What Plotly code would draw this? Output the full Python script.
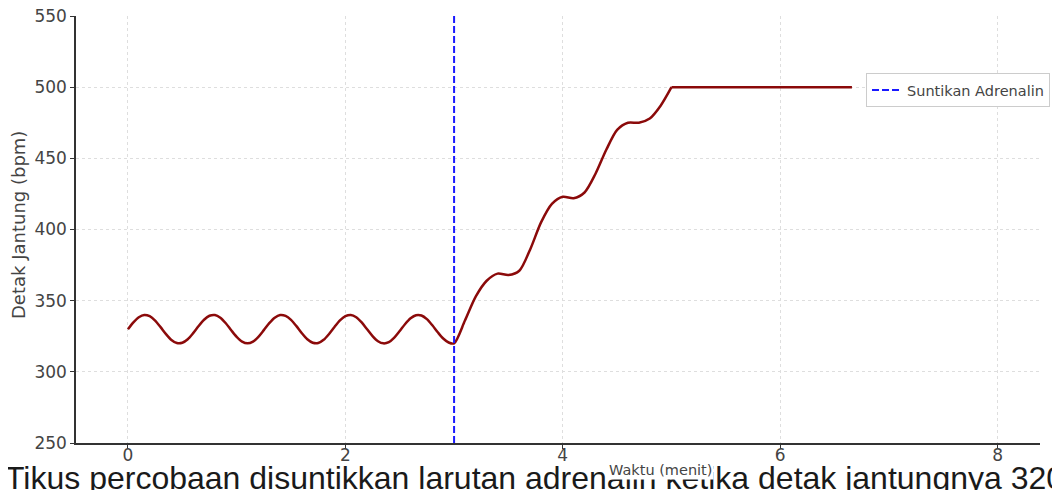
import plotly.graph_objects as go

# ---------------- data ----------------
# baseline oscillation before the injection (every 0.05 min)
base_time = [0.00, 0.05, 0.10, 0.15, 0.20, 0.25, 0.30, 0.35, 0.40, 0.45,
             0.50, 0.55, 0.60, 0.65, 0.70, 0.75, 0.80, 0.85, 0.90, 0.95,
             1.00, 1.05, 1.10, 1.15, 1.20, 1.25, 1.30, 1.35, 1.40, 1.45,
             1.50, 1.55, 1.60, 1.65, 1.70, 1.75, 1.80, 1.85, 1.90, 1.95,
             2.00, 2.05, 2.10, 2.15, 2.20, 2.25, 2.30, 2.35, 2.40, 2.45,
             2.50, 2.55, 2.60, 2.65, 2.70, 2.75, 2.80, 2.85, 2.90, 2.95]
base_bpm = [330.0, 334.8, 338.4, 340.0, 339.1, 336.0, 331.4, 326.5, 322.4, 320.2,
            320.4, 322.9, 327.2, 332.2, 336.6, 339.4, 339.9, 338.0, 334.1, 329.2,
            324.6, 321.2, 320.0, 321.2, 324.6, 329.3, 334.2, 338.0, 339.9, 339.3,
            336.5, 332.1, 327.1, 322.9, 320.4, 320.2, 322.5, 326.6, 331.5, 336.1,
            339.1, 340.0, 338.4, 334.7, 329.9, 325.1, 321.5, 320.0, 320.9, 324.1,
            328.7, 333.6, 337.6, 339.8, 339.6, 337.0, 332.7, 327.8, 323.4, 320.6]
# rise after the injection (every 0.1 min) and the plateau
rise_time = [3.0, 3.1, 3.2, 3.3, 3.4, 3.5, 3.6, 3.7, 3.8, 3.9,
             4.0, 4.1, 4.2, 4.3, 4.4, 4.5, 4.6, 4.7, 4.8, 4.9, 5.0]
rise_bpm = [320, 336, 353, 364, 369, 368, 371, 386, 405, 418,
            423, 422, 426, 439, 456, 470, 475, 475, 478, 487, 500]
plateau_time = [5.0, 6.66]
plateau_bpm = [500, 500]

injection_time = 3
legend_label = "Suntikan Adrenalin"
x_title = "Waktu (menit)"
y_title = "Detak Jantung (bpm)"
caption = "Tikus percobaan disuntikkan larutan adrenalin ketika detak jantungnya 320"
x_ticks = [0, 2, 4, 6, 8]
y_ticks = [250, 300, 350, 400, 450, 500, 550]

# ---------------- layout geometry ----------------
OFF = 8                      # page body margin of the html page
W, H = 1060 - OFF, 490 - OFF
L, T = 76 - OFF, 16 - OFF
R = W - (1040 - OFF)
B = H - (443 - OFF)
PW, PH = W - L - R, H - T - B


def px_x(p):
    return (p - OFF - L) / PW


def px_y(p):
    return 1 - (p - OFF - T) / PH


line_color = "#8b0a0a"

fig = go.Figure()
fig.add_trace(go.Scatter(x=base_time + rise_time, y=base_bpm + rise_bpm, mode="lines",
                         line=dict(color=line_color, width=2.5, shape="spline", smoothing=0.8),
                         showlegend=False, hoverinfo="skip"))
fig.add_trace(go.Scatter(x=plateau_time, y=plateau_bpm, mode="lines",
                         line=dict(color=line_color, width=2.5),
                         showlegend=False, hoverinfo="skip"))
fig.add_trace(go.Scatter(x=[injection_time, injection_time], y=[y_ticks[0], y_ticks[-1]],
                         mode="lines", name=legend_label,
                         line=dict(color="#1a1aff", width=2, dash="7px,3px")))

axis_common = dict(
    automargin=False,
    showline=True, linecolor="#333333", linewidth=1.5, mirror=False,
    ticks="outside", ticklen=4, tickcolor="#333333", tickwidth=1,
    showgrid=True, gridcolor="#dedede", gridwidth=1, griddash="dot",
    zeroline=False, ticklabeloverflow="allow",
    tickfont=dict(family="DejaVu Sans", size=17, color="#444444"),
)

fig.update_xaxes(range=[-0.478, 8.39], tickvals=x_ticks, ticklabelstandoff=-8, **axis_common)
fig.update_yaxes(range=[250, 550], tickvals=y_ticks, **axis_common)

fig.update_layout(
    width=W, height=H,
    margin=dict(l=L, r=R, t=T, b=B),
    paper_bgcolor="white", plot_bgcolor="white",
    legend=dict(x=px_x(866), y=px_y(73), xanchor="left", yanchor="top",
                bgcolor="white", bordercolor="#cccccc", borderwidth=1,
                font=dict(family="DejaVu Sans", size=14.5, color="#444444"),
                itemwidth=30),
    annotations=[
        dict(text=y_title, xref="paper", yref="paper", x=px_x(18), y=px_y(225),
             xanchor="center", yanchor="middle", textangle=-90, showarrow=False,
             font=dict(family="DejaVu Sans", size=18, color="#444444")),
        dict(text=caption, xref="paper", yref="paper", x=px_x(3), y=px_y(478),
             xanchor="left", yanchor="middle", showarrow=False,
             font=dict(family="Liberation Sans", size=32, color="#1a1a1a")),
        dict(text=x_title, xref="paper", yref="paper", x=px_x(660), y=px_y(470),
             xanchor="center", yanchor="middle", showarrow=False, bgcolor="white",
             font=dict(family="DejaVu Sans", size=14.5, color="#444444")),
    ],
)

fig.write_html("out.html")
